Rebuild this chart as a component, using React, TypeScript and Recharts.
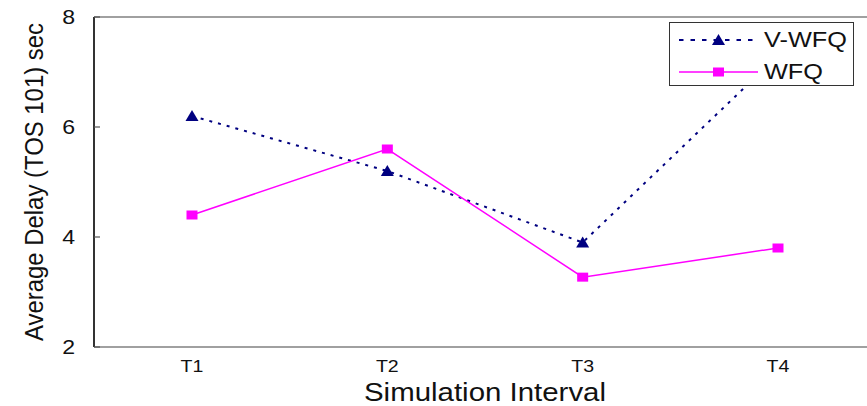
import React from 'react';
import { LineChart, Line, XAxis, YAxis, ReferenceLine, Label } from 'recharts';

const categories = ['T1', 'T2', 'T3', 'T4'];
const vwfqValues = [6.2, 5.2, 3.9, 7.3];
const wfqValues = [4.4, 5.6, 3.27, 3.8];
const yTicks = [2, 4, 6, 8];
const seriesNames = ['V-WFQ', 'WFQ'];
const xTitle = 'Simulation Interval';
const yTitle = 'Average Delay (TOS 101) sec';

const NAVY = '#000080';
const MAGENTA = '#FF00FF';
const FONT = '"Liberation Sans", Arial, sans-serif';

const data = categories.map((c, i) => ({ name: c, vwfq: vwfqValues[i], wfq: wfqValues[i] }));

const TriangleDot = (props: any) => {
  const { cx, cy } = props;
  if (cx == null || cy == null) return null;
  return <polygon points={`${cx - 6.5},${cy + 5} ${cx + 6.5},${cy + 5} ${cx},${cy - 6}`} fill={NAVY} />;
};

const SquareDot = (props: any) => {
  const { cx, cy } = props;
  if (cx == null || cy == null) return null;
  return <rect x={cx - 5.5} y={cy - 4.5} width={11} height={9} fill={MAGENTA} />;
};

const YTick = (props: any) => {
  const { x, y, payload } = props;
  return (
    <g>
      <line x1={x} x2={x + 6} y1={y} y2={y} stroke="#555" strokeWidth={1.2} />
      <text
        x={0}
        y={0}
        textAnchor="end"
        dominantBaseline="central"
        fontFamily={FONT}
        fontSize={21}
        fill="#111"
        transform={`translate(${x - 19},${y}) scale(1.1,1)`}
      >
        {payload.value}
      </text>
    </g>
  );
};

const XTick = (props: any) => {
  const { x, y, payload } = props;
  return (
    <text
      x={0}
      y={0}
      textAnchor="middle"
      dominantBaseline="central"
      fontFamily={FONT}
      fontSize={17}
      fill="#111"
      transform={`translate(${x},${y + 11}) scale(1.15,1)`}
    >
      {payload.value}
    </text>
  );
};

const LegendBox = () => {
  return (
    <div
      style={{
        position: 'absolute',
        left: 669,
        top: 22,
        width: 183,
        height: 62,
        border: '1px solid #333',
        background: '#fff',
        fontFamily: FONT,
      }}
    >
      <svg width={183} height={62} style={{ position: 'absolute', left: 0, top: 0 }}>
        <line x1={9} x2={88} y1={17} y2={17} stroke={NAVY} strokeWidth={2} strokeDasharray="4.5 7" />
        <polygon points={`${42},${22} ${55},${22} ${48.5},${11}`} fill={NAVY} />
        <text x={0} y={0} fontSize={22} fill="#111" fontFamily={FONT} dominantBaseline="central"
          transform={`translate(94,17) scale(1.15,1)`}>{seriesNames[0]}</text>
        <line x1={9} x2={88} y1={49} y2={49} stroke={MAGENTA} strokeWidth={1.5} />
        <rect x={43} y={44.5} width={11} height={9} fill={MAGENTA} />
        <text x={0} y={0} fontSize={22} fill="#111" fontFamily={FONT} dominantBaseline="central"
          transform={`translate(94,49) scale(1.15,1)`}>{seriesNames[1]}</text>
      </svg>
    </div>
  );
};

export default function App() {
  return (
    <div style={{ position: 'absolute', left: 0, top: 0, width: 867, height: 406, overflow: 'hidden', background: '#fff' }}>
      <LineChart width={880} height={406} data={data} margin={{ top: 17, right: 4, bottom: 0, left: 0 }}>
        <ReferenceLine y={8} stroke="#808080" strokeWidth={1.5} ifOverflow="extendDomain" />
        <XAxis
          dataKey="name"
          height={59}
          padding={{ left: 98, right: 98 }}
          axisLine={{ stroke: '#808080', strokeWidth: 1.5 }}
          tickLine={false}
          tick={<XTick />}
          interval={0}
        >
          <Label
            content={(p: any) => {
              const vb = p.viewBox;
              return (
                <text
                  x={vb.x + vb.width / 2}
                  y={vb.y + 45}
                  textAnchor="middle"
                  dominantBaseline="central"
                  fontFamily={FONT}
                  fontSize={25}
                  fill="#111"
                  textLength={242}
                  lengthAdjust="spacingAndGlyphs"
                >
                  {xTitle}
                </text>
              );
            }}
          />
        </XAxis>
        <YAxis
          width={94}
          domain={[2, 8]}
          ticks={yTicks}
          type="number"
          allowDataOverflow
          axisLine={{ stroke: '#333', strokeWidth: 2 }}
          tickLine={false}
          tickSize={0}
          tickMargin={0}
          tick={<YTick />}
        >
          <Label
            content={(p: any) => {
              const vb = p.viewBox;
              const cx = vb.x + 34;
              const cy = vb.y + vb.height / 2;
              return (
                <text
                  x={cx}
                  y={cy}
                  textAnchor="middle"
                  dominantBaseline="central"
                  fontFamily={FONT}
                  fontSize={25}
                  fill="#111"
                  transform={`rotate(-90, ${cx}, ${cy})`}
                  textLength={318}
                  lengthAdjust="spacingAndGlyphs"
                >
                  {yTitle}
                </text>
              );
            }}
          />
        </YAxis>
        <Line
          dataKey="vwfq"
          name={seriesNames[0]}
          stroke={NAVY}
          strokeWidth={2}
          strokeDasharray="3 6"
          dot={<TriangleDot />}
          activeDot={false}
          isAnimationActive={false}
        />
        <Line
          dataKey="wfq"
          name={seriesNames[1]}
          stroke={MAGENTA}
          strokeWidth={1.5}
          dot={<SquareDot />}
          activeDot={false}
          isAnimationActive={false}
        />
      </LineChart>
      <LegendBox />
    </div>
  );
}
